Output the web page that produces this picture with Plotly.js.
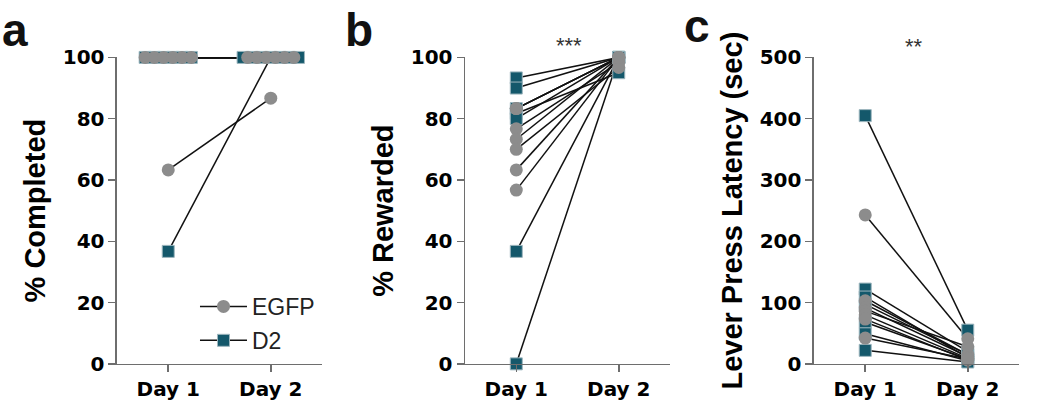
<!DOCTYPE html>
<html>
<head>
<meta charset="utf-8">
<script src="https://cdn.plot.ly/plotly-3.0.1.min.js"></script>
<style>html,body{margin:0;padding:0;background:#fff;}#chart{width:1050px;height:413px;}</style>
</head>
<body>
<div id="chart"></div>
<script>
// ---- data ----
const days = ['Day 1', 'Day 2'];
const groups = ['EGFP', 'D2'];

// panel a: % Completed
const completedEGFPDay1 = [100, 100, 100, 63.3, 100, 100, 100];
const completedEGFPDay2 = [100, 100, 100, 86.7, 100, 100, 100];
const completedD2Day1   = [100, 100, 100, 36.7, 100, 100, 100];
const completedD2Day2   = [100, 100, 100, 100, 100, 100, 100];

// panel b: % Rewarded
const rewardedEGFPDay1 = [83.3, 83.3, 76.7, 73.3, 70.0, 63.3, 56.7];
const rewardedEGFPDay2 = [100, 100, 98.3, 100, 96.7, 100, 100];
const rewardedD2Day1   = [93.3, 90.0, 83.3, 81.7, 80.0, 36.7, 0];
const rewardedD2Day2   = [100, 100, 100, 95.0, 100, 100, 100];

// panel c: Lever press latency (sec)
const latencyEGFPDay1 = [243, 103, 91, 86, 80, 73, 42];
const latencyEGFPDay2 = [41, 15, 12, 28, 9, 6, 8];
const latencyD2Day1   = [405, 122, 109, 97, 68, 49, 22];
const latencyD2Day2   = [55, 20, 10, 15, 8, 5, 3];

const yTitles = ['% Completed', '% Rewarded', 'Lever Press Latency (sec)'];
const panelLetters = ['a', 'b', 'c'];
const significance = ['', '***', '**'];

// ---- styles ----
const TEAL = '#14586b';
const GREY = '#8c8c8c';
const AXIS = '#6e6e6e';

// horizontal spread of identical values (only where requested)
function spreadX(values, base, step) {
  return values.map((v, i) => {
    if (!step) return base;
    const same = values.map((w, j) => j).filter(j => values[j] === v);
    if (same.length < 2) return base;
    const k = same.indexOf(i);
    return base + (k - (same.length - 1) / 2) * step;
  });
}

const panels = [
  {EGFP: [completedEGFPDay1, completedEGFPDay2], D2: [completedD2Day1, completedD2Day2], spread: 0.09},
  {EGFP: [rewardedEGFPDay1, rewardedEGFPDay2], D2: [rewardedD2Day1, rewardedD2Day2], spread: 0},
  {EGFP: [latencyEGFPDay1, latencyEGFPDay2], D2: [latencyD2Day1, latencyD2Day2], spread: 0}
];

const markerStyle = {
  EGFP: {symbol: 'circle', size: 13, color: GREY, line: {width: 0}},
  D2: {symbol: 'square', size: 12, color: TEAL, line: {width: 1, color: '#9db6be'}}
};

const data = [];
panels.forEach((p, pi) => {
  const xa = pi === 0 ? 'x' : 'x' + (pi + 1);
  const ya = pi === 0 ? 'y' : 'y' + (pi + 1);
  const pos = {};
  groups.forEach(g => {
    pos[g] = [spreadX(p[g][0], 0, p.spread), spreadX(p[g][1], 1, p.spread)];
  });
  // connecting lines (under all markers)
  ['D2', 'EGFP'].forEach(g => {
    const lx = [], ly = [];
    p[g][0].forEach((v, i) => {
      lx.push(pos[g][0][i], pos[g][1][i], null);
      ly.push(v, p[g][1][i], null);
    });
    data.push({x: lx, y: ly, xaxis: xa, yaxis: ya, mode: 'lines', type: 'scatter',
      line: {color: '#111', width: 1.5}, showlegend: false, hoverinfo: 'skip', cliponaxis: false});
  });
  // markers
  ['D2', 'EGFP'].forEach(g => {
    data.push({
      x: pos[g][0].concat(pos[g][1]),
      y: p[g][0].concat(p[g][1]),
      xaxis: xa, yaxis: ya, mode: 'markers', type: 'scatter', name: g,
      marker: markerStyle[g], showlegend: false, cliponaxis: false
    });
  });
});
// legend entries
groups.forEach((g, gi) => {
  data.push({x: [null], y: [null], xaxis: 'x', yaxis: 'y', mode: 'lines+markers', type: 'scatter',
    name: g, legendgroup: g, marker: markerStyle[g], line: {color: '#111', width: 1.5}, showlegend: true});
});

const yDomain = [0.119, 0.861];
const xDomains = [[0.1114, 0.3067], [0.4429, 0.6381], [0.7752, 0.9705]];
const yRanges = [[0, 100], [0, 100], [0, 500]];
const yDticks = [20, 20, 100];

const tickFont = {family: 'DejaVu Sans', size: 20, color: '#000', weight: 'bold'};
const layout = {
  width: 1050, height: 413,
  margin: {l: 0, r: 0, t: 0, b: 0},
  paper_bgcolor: '#fff', plot_bgcolor: '#fff',
  showlegend: true,
  legend: {x: 0.1857, y: 0.31, xanchor: 'left', yanchor: 'top', tracegroupgap: 1, itemwidth: 47,
    font: {family: 'Liberation Sans', size: 23, color: '#222'}, bgcolor: 'rgba(0,0,0,0)'},
  annotations: []
};

[0, 1, 2].forEach(i => {
  const sx = i === 0 ? '' : String(i + 1);
  layout['xaxis' + sx] = {
    domain: xDomains[i], anchor: 'y' + sx, range: [-0.5, 1.5],
    tickvals: [0, 1], ticktext: days, ticks: 'outside', ticklen: 7, tickwidth: 1.5, tickcolor: AXIS,
    showline: true, linecolor: AXIS, linewidth: 1.5, showgrid: false, zeroline: false,
    tickfont: tickFont, fixedrange: true
  };
  layout['yaxis' + sx] = {
    domain: yDomain, anchor: 'x' + sx, range: yRanges[i], dtick: yDticks[i],
    ticks: 'outside', ticklen: 7, tickwidth: 1.5, tickcolor: AXIS,
    showline: true, linecolor: AXIS, linewidth: 1.5, showgrid: false, zeroline: false,
    tickfont: tickFont, fixedrange: true,
    title: {text: yTitles[i], standoff: 8, font: {family: 'Liberation Sans', size: 29, color: '#000', weight: 'bold'}}
  };
});

const letterPos = [[0.0, 0.9273], [0.3267, 0.9273], [0.6495, 0.938]];
panelLetters.forEach((t, i) => {
  layout.annotations.push({text: t, xref: 'paper', yref: 'paper', x: letterPos[i][0], y: letterPos[i][1],
    xanchor: 'left', yanchor: 'middle', showarrow: false,
    font: {family: 'Liberation Sans', size: 46, color: '#111', weight: 'bold'}});
});
const starPos = [null, [569 / 1050, 0.889], [914 / 1050, 0.8867]];
significance.forEach((s, i) => {
  if (!s) return;
  layout.annotations.push({text: s, xref: 'paper', yref: 'paper', x: starPos[i][0], y: starPos[i][1],
    xanchor: 'center', yanchor: 'middle', showarrow: false,
    font: {family: 'Liberation Sans', size: 22, color: '#333'}});
});

Plotly.newPlot('chart', data, layout, {staticPlot: true, displayModeBar: false});
</script>
</body>
</html>
